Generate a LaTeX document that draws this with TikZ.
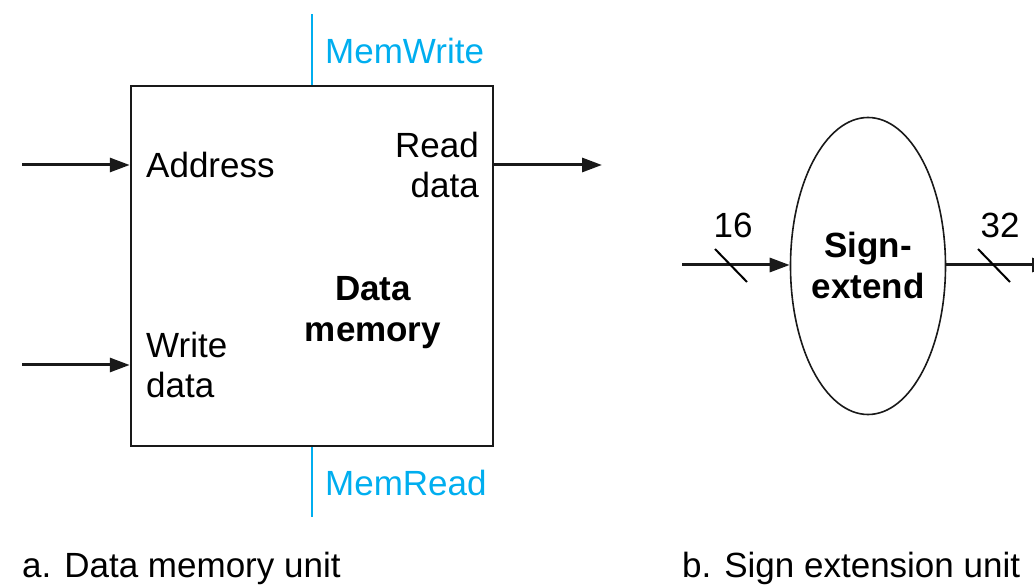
\documentclass[tikz,border=0pt]{standalone}
\usepackage{fontspec}
\setmainfont{Liberation Sans}
\usetikzlibrary{arrows.meta,shapes.geometric}
\definecolor{ctlblue}{RGB}{0,174,239}
\tikzset{
  wire/.style={line width=3pt,draw=black!90,-{Triangle[length=20pt,width=14pt]}},
  ctl/.style={line width=2pt,draw=ctlblue},
  txt/.style={font=\fontsize{35}{40}\selectfont,inner sep=0pt},
  btxt/.style={font=\fontsize{35}{41}\selectfont\bfseries,inner sep=0pt,align=center},
  bluetxt/.style={txt,text=ctlblue,anchor=west},
  slash/.style={line width=2pt},
}
\begin{document}
\begin{tikzpicture}[x=1pt,y=-1pt]
\clip (0,0) rectangle (1034,585);
\useasboundingbox (0,0) rectangle (1034,585);
% data memory
\node[draw=black!90,line width=2.5pt,minimum width=362pt,minimum height=360pt,inner sep=0pt] (mem) at (312,266) {};
\coordinate (mwtop) at (312,14);
\coordinate (mrbot) at (312,517);
\draw[ctl] (mem.north -| mwtop) -- (mwtop);
\draw[ctl] (mem.south -| mrbot) -- (mrbot);
\node[bluetxt] (mw) at (325,51) {MemWrite};
\node[bluetxt] (mr) at (325,483) {MemRead};
\node[txt,anchor=west] (addr) at (146,165) {Address};
\node[txt,anchor=west,align=left] (wd) at (146,365) {Write\\data};
\node[txt,anchor=east,align=right] (rd) at (479,165) {Read\\data};
\node[btxt] (dm) at (373,313) {Data\\memory};
\coordinate (ain) at (22,165);
\coordinate (win) at (22,365);
\coordinate (rout) at (602,165);
\draw[wire] (ain) -- (ain -| mem.west);
\draw[wire] (win) -- (win -| mem.west);
\draw[wire] (rout -| mem.east) -- (rout);
\node[txt,anchor=west] (capa) at (22,568) {a. Data memory unit};
% sign extend
\node[draw=black!90,line width=1.6pt,ellipse,minimum width=155pt,minimum height=297pt,inner sep=0pt] (se) at (868,266) {};
\node[btxt] at (868,265) {Sign-\\extend};
\coordinate (sin) at (682,265);
\coordinate (sout) at (1052,265);
\draw[wire] (sin) -- (se.west |- sin);
\draw[wire] (se.east |- sout) -- (sout);
\draw[slash] (715,249) -- (747,282);
\draw[slash] (978,249) -- (1010,282);
\node[txt] (n16) at (733,225) {16};
\node[txt] (n32) at (1000,225) {32};
\node[txt,anchor=west] (capb) at (682,568) {b. Sign extension unit};
\end{tikzpicture}
\end{document}
